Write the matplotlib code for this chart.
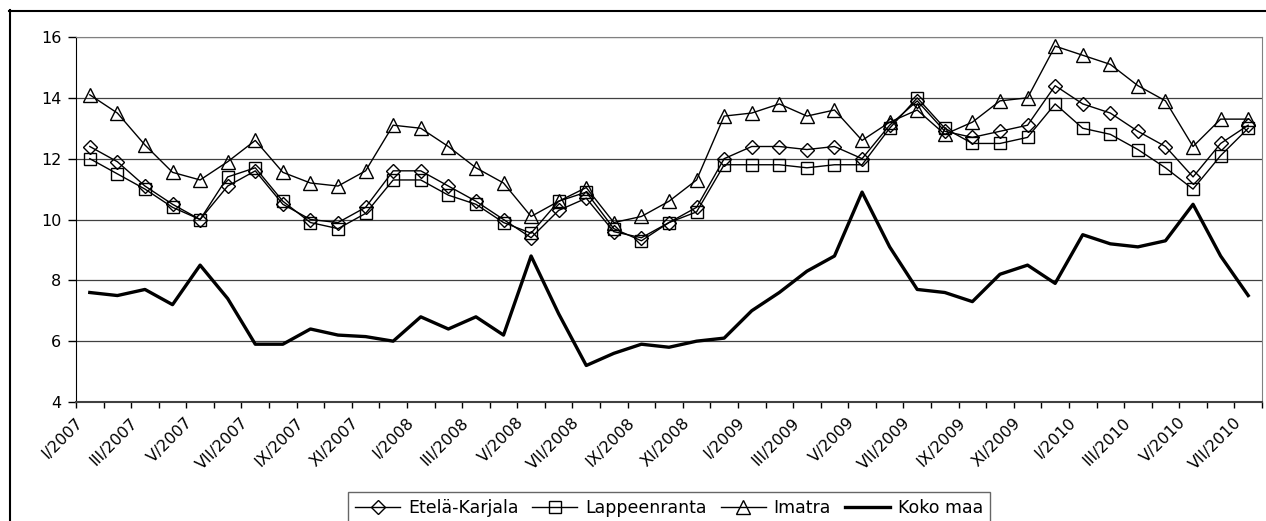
import matplotlib
matplotlib.use("Agg")
import matplotlib.pyplot as plt
import numpy as np
from matplotlib.lines import Line2D
from matplotlib.transforms import ScaledTranslation

# wide sans face, close to the stretched Arial of the original sheet
plt.rcParams['font.family'] = ['DejaVu Sans']

# every other month is labelled on the category axis
tick_labels = ['I/2007', 'III/2007', 'V/2007', 'VII/2007', 'IX/2007', 'XI/2007',
               'I/2008', 'III/2008', 'V/2008', 'VII/2008', 'IX/2008', 'XI/2008',
               'I/2009', 'III/2009', 'V/2009', 'VII/2009', 'IX/2009', 'XI/2009',
               'I/2010', 'III/2010', 'V/2010', 'VII/2010']

etela_karjala = [12.4, 11.9, 11.1, 10.5, 10.0, 11.1, 11.6, 10.5, 10.0, 9.9,
                 10.4, 11.6, 11.6, 11.1, 10.6, 10.0, 9.4, 10.3, 10.7, 9.6,
                 9.4, 9.9, 10.4, 12.0, 12.4, 12.4, 12.3, 12.4, 12.0, 13.1,
                 13.9, 12.9, 12.7, 12.9, 13.1, 14.4, 13.8, 13.5, 12.9, 12.4,
                 11.4, 12.5, 13.1]
lappeenranta = [12.0, 11.5, 11.0, 10.4, 10.0, 11.4, 11.7, 10.6, 9.9, 9.7,
                10.2, 11.3, 11.3, 10.8, 10.5, 9.9, 9.55, 10.6, 10.9, 9.7,
                9.3, 9.9, 10.25, 11.8, 11.8, 11.8, 11.7, 11.8, 11.8, 13.0,
                14.0, 13.0, 12.5, 12.5, 12.7, 13.8, 13.0, 12.8, 12.3, 11.7,
                11.0, 12.1, 13.0]
imatra = [14.1, 13.5, 12.45, 11.55, 11.3, 11.9, 12.6, 11.55, 11.2, 11.1,
          11.6, 13.1, 13.0, 12.4, 11.7, 11.2, 10.1, 10.6, 11.05, 9.9,
          10.1, 10.6, 11.3, 13.4, 13.5, 13.8, 13.4, 13.6, 12.6, 13.2,
          13.6, 12.8, 13.2, 13.9, 14.0, 15.7, 15.4, 15.1, 14.4, 13.9,
          12.4, 13.3, 13.3]
koko_maa = [7.6, 7.5, 7.7, 7.2, 8.5, 7.4, 5.9, 5.9, 6.4, 6.2,
            6.15, 6.0, 6.8, 6.4, 6.8, 6.2, 8.8, 6.9, 5.2, 5.6,
            5.9, 5.8, 6.0, 6.1, 7.0, 7.6, 8.3, 8.8, 10.9, 9.1,
            7.7, 7.6, 7.3, 8.2, 8.5, 7.9, 9.5, 9.2, 9.1, 9.3,
            10.5, 8.8, 7.5]

W, H = 1266, 521
fig = plt.figure(figsize=(W / 100, H / 100), dpi=100)
ax = fig.add_axes([76 / W, 1 - 402 / H, (1262 - 76) / W, (402 - 37) / H])

x = np.arange(len(koko_maa))
style = dict(color='black', lw=1.0, mfc='none', mec='black', mew=1.0)
ax.plot(x, etela_karjala, marker='D', ms=7.5, label='Etelä-Karjala', **style)
ax.plot(x, lappeenranta, marker='s', ms=8, label='Lappeenranta', **style)
ax.plot(x, imatra, marker='^', ms=9.5, label='Imatra', **style)
ax.plot(x, koko_maa, color='black', lw=2.4, label='Koko maa')

ax.set_xlim(-0.5, len(x) - 0.5)
ax.set_ylim(4, 16)
ax.set_yticks(np.arange(4, 17, 2))
ax.yaxis.grid(True, color='#404040', lw=0.9)
ax.set_axisbelow(True)

ax.set_xticks(x[::2], tick_labels)
ax.set_xticks(np.arange(-0.5, len(x)), minor=True)
ax.tick_params(axis='x', which='major', length=0, pad=0, labelsize=11.5)
ax.tick_params(axis='x', which='minor', length=4, width=1, direction='out')
ax.tick_params(axis='y', length=5.5, width=1, pad=5, labelsize=11.5)

shift = ScaledTranslation(-15 / 100, -13 / 100, fig.dpi_scale_trans)
for lbl in ax.get_xticklabels():
    lbl.set_rotation(45)
    lbl.set_ha('right')
    lbl.set_va('top')
    lbl.set_rotation_mode('anchor')
    lbl.set_transform(lbl.get_transform() + shift)

for side in ('top', 'right'):
    ax.spines[side].set_color('#808080')
ax.spines['left'].set_color('black')
ax.spines['bottom'].set_color('#404040')
ax.spines['bottom'].set_linewidth(1.5)

leg = ax.legend(loc='upper left', bbox_to_anchor=(348 / W, 1 - 492 / H),
                bbox_transform=fig.transFigure, ncol=4, fontsize=12.5,
                numpoints=1, frameon=True, fancybox=False, edgecolor='#404040',
                handlelength=2.6, handletextpad=0.45, columnspacing=0.8,
                borderpad=0.4, borderaxespad=0)
leg.get_frame().set_linewidth(1.0)

# outer chart border
fig.add_artist(Line2D([9.5 / W, 9.5 / W], [0, 1 - 10 / H], transform=fig.transFigure,
                      color='black', lw=1.5))
fig.add_artist(Line2D([9 / W, 1], [1 - 10.5 / H, 1 - 10.5 / H], transform=fig.transFigure,
                      color='black', lw=1.5))

fig.savefig('out.png', dpi=100)
